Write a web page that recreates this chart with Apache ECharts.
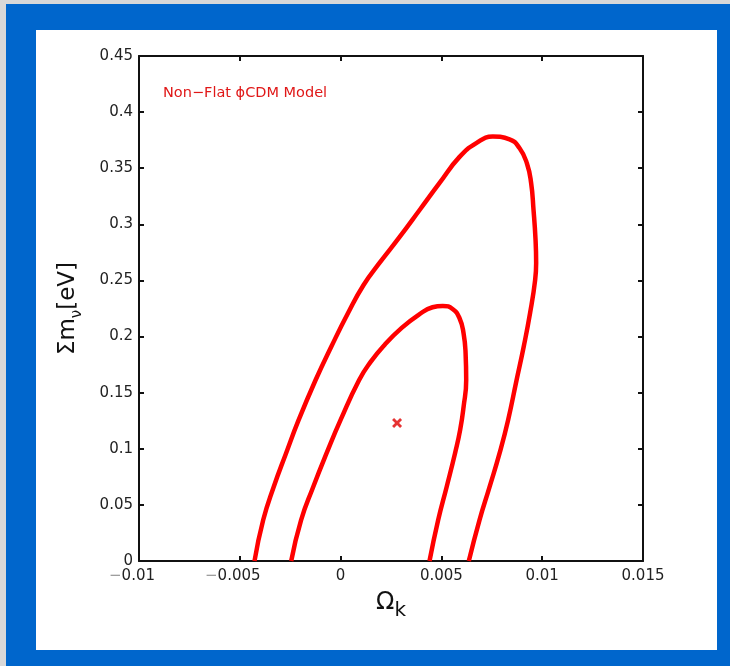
<!DOCTYPE html>
<html>
<head>
<meta charset="utf-8">
<script src="https://cdn.jsdelivr.net/npm/echarts@6/dist/echarts.min.js"></script>
<style>
  html, body { margin: 0; padding: 0; }
  body { width: 730px; height: 666px; background: #0066cc; position: relative; overflow: hidden; }
  .strip-top { position: absolute; left: 0; top: 0; width: 730px; height: 4px; background: #d8d8d8; }
  .strip-left { position: absolute; left: 0; top: 0; width: 6px; height: 666px; background: #d8d8d8; }
  .panel { position: absolute; left: 36px; top: 30px; width: 681px; height: 620px; background: #ffffff; }
  #chart { position: absolute; left: 0; top: 0; width: 730px; height: 666px; }
</style>
</head>
<body>
<div class="strip-top"></div>
<div class="strip-left"></div>
<div class="panel"></div>
<div id="chart"></div>
<script>
// Tick labels
const xTickLabels = ['\u22120.01', '\u22120.005', '0', '0.005', '0.01', '0.015'];
const yTickLabels = ['0', '0.05', '0.1', '0.15', '0.2', '0.25', '0.3', '0.35', '0.4', '0.45'];

// Outer confidence contour (Omega_k, sum of neutrino masses)
const outerX = [-0.00427, -0.00384, -0.00332, -0.0027, -0.00208, -0.00124, -0.00047, 0.00037, 0.00114, 0.00193,
  0.00293, 0.00392, 0.00491, 0.0059, 0.00673, 0.00755, 0.00838, 0.00888, 0.00924, 0.00945, 0.00957, 0.00967,
  0.0097, 0.00965, 0.0094, 0.00908, 0.00873, 0.00831, 0.00789, 0.00739, 0.00689, 0.00636];
const outerY = [0, 0.0365, 0.066, 0.0963, 0.1257, 0.1613, 0.1907, 0.221, 0.246, 0.2656,
  0.2888, 0.3128, 0.3369, 0.3601, 0.3723, 0.3782, 0.3758, 0.3678, 0.3545, 0.3369, 0.3128, 0.2861,
  0.2656, 0.2504, 0.221, 0.1907, 0.1613, 0.1257, 0.0963, 0.066, 0.0365, 0];

// Inner confidence contour
const innerX = [-0.00245, -0.00196, -0.00136, -0.00069, 0.0, 0.00092, 0.00149, 0.00218, 0.00303, 0.00387,
  0.00456, 0.00507, 0.00557, 0.0059, 0.0061, 0.0062, 0.00623, 0.0061, 0.00593, 0.00568, 0.00526, 0.00484, 0.00441];
const innerY = [0, 0.0365, 0.066, 0.0963, 0.1257, 0.1613, 0.1774, 0.1925, 0.2077, 0.2193,
  0.2261, 0.2273, 0.2243, 0.2163, 0.2029, 0.1851, 0.1613, 0.1373, 0.1168, 0.0963, 0.066, 0.0365, 0];

// Best-fit point
const bestFit = [0.0028, 0.123];

const modelName = 'Non\u2212Flat \u03D5CDM Model';

const FONT = 'DejaVu Sans';
const RED = '#ff0000';

function pairs(xs, ys) { return xs.map((x, i) => [x, ys[i]]); }

const frameLine = { show: true, onZero: false, lineStyle: { color: '#111', width: 2 } };
const frameTick = { show: true, inside: true, length: 5, lineStyle: { color: '#111', width: 2 } };

const chart = echarts.init(document.getElementById('chart'), null, { renderer: 'canvas' });
chart.setOption({
  animation: false,
  backgroundColor: 'transparent',
  title: {
    text: modelName,
    left: 158, top: 81,
    textStyle: { color: '#e01818', fontSize: 14.5, fontWeight: 'normal', fontFamily: FONT }
  },
  grid: { left: 139, top: 56, width: 504, height: 505 },
  xAxis: [{
    type: 'value', min: -0.01, max: 0.015, interval: 0.005, position: 'bottom',
    axisLine: frameLine, axisTick: frameTick, splitLine: { show: false },
    axisLabel: {
      margin: 8, color: '#222', fontSize: 15, fontFamily: FONT,
      formatter: (v, i) => {
        const s = xTickLabels[i];
        if (s === undefined) return '';
        if (s[0] === '\u2212') return '{m|\u2212}{n|' + s.slice(1) + '}';
        return s;
      },
      rich: {
        m: { color: '#9a9a9a', fontSize: 15, fontFamily: FONT },
        n: { color: '#222', fontSize: 15, fontFamily: FONT, padding: [0, 14, 0, 0] }
      }
    },
    name: '{a|\u03A9}{b|k}', nameLocation: 'middle', nameGap: 30,
    nameTextStyle: {
      rich: {
        a: { fontSize: 24, fontFamily: FONT, color: '#111', lineHeight: 28, verticalAlign: 'top' },
        b: { fontSize: 20, fontFamily: FONT, color: '#111', lineHeight: 22, padding: [12, 0, 0, 0] }
      }
    }
  }, {
    type: 'value', min: -0.01, max: 0.015, interval: 0.005, position: 'top',
    axisLine: frameLine, axisTick: frameTick, axisLabel: { show: false }, splitLine: { show: false }
  }],
  yAxis: [{
    type: 'value', min: 0, max: 0.45, interval: 0.05, position: 'left',
    axisLine: frameLine, axisTick: frameTick, splitLine: { show: false },
    axisLabel: {
      margin: 6, color: '#222', fontSize: 15, fontFamily: FONT,
      formatter: (v, i) => yTickLabels[i] !== undefined ? yTickLabels[i] : ''
    },
    name: '{a|\u03A3m}{b|\u03BD}{a|[eV]}', nameLocation: 'middle', nameGap: 55, nameRotate: 90,
    nameTextStyle: {
      rich: {
        a: { fontSize: 23, fontFamily: FONT, color: '#111', lineHeight: 27, verticalAlign: 'top' },
        b: { fontSize: 15, fontFamily: FONT, color: '#111', lineHeight: 17, padding: [14, 0, 0, 0] }
      }
    }
  }, {
    type: 'value', min: 0, max: 0.45, interval: 0.05, position: 'right',
    axisLine: frameLine, axisTick: frameTick, axisLabel: { show: false }, splitLine: { show: false }
  }],
  series: [{
    name: 'outer', type: 'line', xAxisIndex: 0, yAxisIndex: 0,
    data: pairs(outerX, outerY), showSymbol: false, smooth: 0.5, clip: true,
    lineStyle: { color: RED, width: 4.5 }
  }, {
    name: 'inner', type: 'line', xAxisIndex: 0, yAxisIndex: 0,
    data: pairs(innerX, innerY), showSymbol: false, smooth: 0.5, clip: true,
    lineStyle: { color: RED, width: 4.5 }
  }, {
    name: 'best fit', type: 'scatter', xAxisIndex: 0, yAxisIndex: 0,
    data: [bestFit],
    symbol: 'path://M0,2L2,0L5,3L8,0L10,2L7,5L10,8L8,10L5,7L2,10L0,8L3,5Z',
    symbolSize: 10, itemStyle: { color: '#e00000' }
  }]
});
</script>
</body>
</html>
